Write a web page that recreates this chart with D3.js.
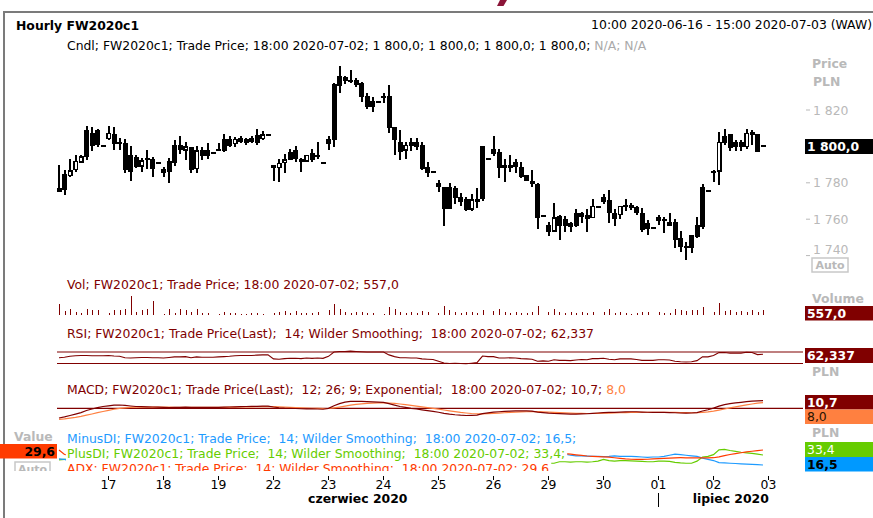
<!DOCTYPE html>
<html><head><meta charset="utf-8">
<script src="https://cdn.jsdelivr.net/npm/d3@7"></script>
<style>body{margin:0;background:#fff;}svg{display:block;}</style>
</head><body><svg id="c" width="873" height="518"></svg>
<script>
// ---------- DATA (hourly bars, first bar = 10:00 2020-06-16) ----------
const open = [
1777.0,1784.8,1783.7,1786.9,1791.0,1809.0,1807.5,1809.0,1800.2,
1803.9,1806.8,1802.6,1802.0,1795.3,1794.0,1788.9,1793.4,1793.0,1791.0,
1787.4,1792.0,1800.8,1800.8,1797.7,1799.5,1787.4,1798.0,1798.0,1796.6,
1798.0,1803.9,1803.9,1801.3,1804.4,1803.9,1804.4,1806.3,1803.9,1806.3,
1789.8,1788.0,1790.7,1797.1,1798.0,1793.0,1791.6,1796.2,1794.9,1791.0,
1803.9,1834.3,1838.7,1838.3,1836.3,1836.5,1835.0,1827.7,1825.1,1824.6,
1827.0,1827.7,1810.5,1802.6,1797.7,1802.6,1802.6,1800.8,1788.9,1786.1,
1779.7,1777.5,1777.5,1777.0,1772.4,1770.9,1765.1,1770.9,1800.2,1792.9,
1798.4,1797.1,1789.8,1789.8,1791.6,1788.9,1784.3,1781.2,1779.3,1761.8,
1756.8,1753.1,1761.8,1760.0,1758.1,1763.6,1763.6,1762.3,1760.5,1766.9,
1772.0,1770.5,1763.6,1762.3,1767.5,1766.0,1766.9,1763.6,1758.1,1755.0,
1761.0,1760.0,1758.6,1758.6,1749.5,1745.3,1751.3,1756.8,1777.9,1775.7,
1786.1,1786.1,1805.7,1806.8,1802.6,1802.6,1799.5,1808.1,1806.8,1800.0];
const high = [
1789.8,1787.0,1793.0,1795.3,1795.3,1811.2,1810.8,1809.6,1800.2,
1811.2,1810.5,1804.4,1803.9,1800.2,1795.3,1793.4,1798.0,1794.4,1791.0,
1788.9,1793.4,1803.5,1805.7,1802.6,1799.9,1800.2,1799.5,1801.7,1796.6,
1802.0,1806.8,1805.7,1805.0,1805.7,1804.4,1805.7,1809.4,1808.6,1806.3,
1789.8,1792.9,1795.8,1798.4,1800.2,1793.4,1795.3,1798.4,1802.6,1791.0,
1805.7,1835.0,1844.2,1838.7,1842.0,1837.4,1835.6,1829.5,1827.3,1824.6,
1829.2,1833.7,1810.8,1809.0,1802.6,1804.4,1804.4,1802.6,1791.6,1786.1,
1781.5,1777.9,1779.7,1778.2,1774.6,1772.0,1773.8,1777.0,1800.2,1792.9,
1805.7,1798.4,1792.9,1795.3,1792.9,1791.6,1784.3,1787.0,1779.7,1761.8,
1758.6,1768.7,1762.3,1761.8,1758.6,1765.4,1764.0,1765.4,1770.9,1766.9,
1773.8,1776.0,1765.4,1767.3,1770.9,1768.7,1767.3,1766.0,1759.6,1755.0,
1762.3,1761.4,1763.6,1760.0,1753.7,1747.7,1751.3,1761.4,1779.3,1775.7,
1787.0,1808.1,1809.4,1806.8,1803.5,1803.5,1809.4,1809.0,1806.8,1800.0];
const low = [
1775.1,1773.3,1783.4,1786.1,1790.7,1792.5,1797.7,1799.5,1800.2,
1803.5,1798.0,1798.0,1785.6,1781.0,1788.0,1786.1,1787.4,1783.4,1791.0,
1783.4,1780.0,1789.2,1795.8,1792.5,1785.6,1785.6,1792.5,1792.9,1796.6,
1797.7,1797.1,1799.9,1799.9,1801.7,1800.8,1801.7,1800.8,1803.5,1806.3,
1781.2,1780.6,1785.6,1792.5,1791.6,1786.1,1791.6,1791.6,1792.9,1791.0,
1798.0,1799.5,1829.2,1834.3,1834.6,1832.8,1824.6,1820.4,1819.0,1824.6,
1824.0,1807.2,1795.3,1792.5,1792.9,1797.7,1798.0,1787.0,1783.4,1786.1,
1775.1,1756.3,1765.4,1768.4,1767.3,1764.7,1764.7,1766.0,1770.2,1792.9,
1794.7,1782.4,1780.6,1786.1,1785.6,1782.4,1781.2,1777.5,1754.4,1761.8,
1750.8,1753.1,1748.6,1753.1,1753.1,1755.9,1758.1,1753.1,1760.5,1766.9,
1768.4,1758.1,1756.3,1760.0,1764.7,1765.1,1762.3,1753.1,1751.3,1755.0,
1756.8,1752.6,1756.3,1744.0,1742.2,1737.6,1741.6,1749.5,1754.4,1775.7,
1780.6,1778.8,1800.8,1797.7,1797.7,1797.7,1798.4,1800.8,1797.1,1800.0];
const close = [
1775.1,1776.0,1787.0,1792.0,1794.7,1794.4,1800.2,1800.8,1800.2,
1807.5,1801.3,1801.3,1787.0,1786.1,1788.9,1792.5,1792.5,1787.4,1791.0,
1785.6,1786.1,1790.7,1798.0,1800.2,1787.0,1798.0,1794.7,1794.7,1796.6,
1797.7,1797.7,1800.2,1804.2,1802.6,1801.7,1802.6,1801.7,1806.8,1806.3,
1788.0,1791.0,1792.9,1792.5,1792.9,1791.6,1795.3,1792.5,1794.9,1791.0,
1801.3,1803.5,1833.2,1836.1,1835.7,1833.7,1827.3,1821.8,1821.8,1824.6,
1827.0,1809.9,1803.5,1797.1,1800.8,1800.2,1799.9,1787.4,1785.6,1786.1,
1777.5,1765.4,1765.4,1771.5,1769.6,1765.1,1770.9,1769.6,1770.9,1792.9,
1795.8,1788.0,1788.0,1788.0,1788.5,1783.4,1781.2,1779.3,1760.5,1761.8,
1753.1,1761.0,1756.3,1756.3,1755.9,1756.3,1761.0,1760.0,1767.3,1766.9,
1769.6,1763.2,1760.0,1767.3,1767.1,1767.8,1763.2,1754.1,1754.4,1755.0,
1759.2,1759.6,1756.3,1748.6,1744.6,1744.0,1744.0,1750.4,1755.9,1775.7,
1786.1,1802.6,1801.7,1799.0,1799.5,1799.5,1807.5,1806.3,1797.1,1800.0];
const volume = [
1300,450,700,300,250,650,550,600,50,
250,550,600,700,2150,350,550,650,1650,40,
80,650,250,700,550,300,650,200,250,40,
150,300,200,250,150,150,200,250,150,30,
200,350,500,250,500,200,250,200,400,40,
600,1300,700,350,250,300,400,250,200,40,
150,900,650,400,250,300,250,500,300,40,
250,1000,600,350,250,350,300,250,600,40,
450,650,300,250,300,250,200,300,1100,40,
300,650,350,250,300,250,300,250,400,40,
300,650,250,350,200,150,250,350,300,40,
300,200,250,650,550,500,550,600,900,50,
350,1350,450,550,300,450,350,600,400,557];
const rsi = [
50,52,55,57,58,58,57,57,57,
58,56,55,50,49,50,51,51,50,50,
49,51,53,53,54,50,53,52,52,52,
53,54,55,57,58,58,58,59,60,60,
46,45,47,48,48,47,49,48,49,48,
55,70,72,72,73,72,71,70,70,70,
70,60,54,50,50,49,49,46,45,44,
38,32,30,31,30,29,31,33,56,54,
54,49,49,50,49,47,46,45,38,39,
38,43,41,41,40,42,44,43,47,47,
48,45,43,46,46,46,44,41,41,41,
43,43,42,38,36,35,36,40,53,53,
58,68,68,66,66,66,69,68,61,62.337];
const macd = [
-13.5,-12,-10,-8,-6,-3,-1,1,2.5,
3.5,4.5,4.6,4,3.2,2.5,2.2,2,1.8,1.5,
1.2,1,1.2,1.4,1.6,1.2,1.3,1.4,1.4,1.3,
1.4,1.6,1.8,2.1,2.3,2.5,2.6,2.7,2.9,3,
1.8,0.8,0.3,0,-0.3,-0.6,-0.7,-0.9,-1,-1.3,
0,3.5,6.5,8.5,9.5,9.8,9.6,9.2,8.8,8.5,
8.2,6.5,4.5,2.5,1.2,0,-1,-2.2,-3.3,-4.3,
-5.5,-7,-8.2,-9,-9.6,-10,-9.8,-9.5,-7.5,-6.3,
-5.2,-4.8,-4.4,-4,-3.6,-3.5,-3.6,-3.9,-5.2,-6,
-6.8,-7.2,-7.5,-7.8,-8,-8,-7.8,-7.6,-7,-6.5,
-6,-5.8,-5.6,-5.2,-5,-4.8,-4.8,-5.2,-5.5,-5.7,
-5.8,-5.8,-5.9,-6.2,-6.5,-6.6,-6.5,-6,-3.8,-2,
0.2,3,5.2,6.5,7.5,8.3,9.2,10,10.4,10.7];
const signal = [
-15.3,-14.7,-13.7,-12.6,-11.3,-9.6,-7.9,-6.1,-4.4,
-2.8,-1.3,-0.1,0.7,1.2,1.5,1.6,1.7,1.7,1.7,
1.6,1.5,1.4,1.4,1.4,1.4,1.4,1.4,1.4,1.4,
1.4,1.4,1.5,1.6,1.8,1.9,2.1,2.2,2.3,2.5,
2.4,2.1,1.7,1.4,1.1,0.7,0.4,0.1,-0.1,-0.3,
-0.3,0.5,1.7,3.0,4.3,5.4,6.2,6.8,7.2,7.5,
7.6,7.4,6.8,6,5,4,3,2,0.9,-0.1,
-1.2,-2.4,-3.6,-4.7,-5.7,-6.5,-7.2,-7.7,-7.7,-7.4,
-7,-6.6,-6.2,-5.8,-5.4,-5,-4.8,-4.6,-4.7,-5,
-5.4,-5.8,-6.1,-6.4,-6.7,-7,-7.1,-7.2,-7.2,-7,
-6.8,-6.6,-6.4,-6.2,-6,-5.8,-5.6,-5.5,-5.5,-5.5,
-5.6,-5.6,-5.7,-5.8,-6,-6.1,-6.2,-6.1,-5.6,-4.9,
-3.9,-2.5,-1,0.5,1.9,3.4,4.8,6.0,7.2,8.0];
const minusDI = [
27,26,23,21,19,16,15,14,14,
13,14,14,19,20,19,18,17,19,19,
20,21,18,17,17,20,18,17,17,17,
16,16,15,15,15,15,14,14,14,14,
22,21,20,19,19,20,19,19,18,18,
16,11,10,9,9,9,12,14,14,14,
13,19,20,22,21,20,20,23,24,24,
28,33,32,31,30,31,29,28,23,22,
21,23,24,23,23,24,24,24,33,32,
34,35,36,35,33,32,32,31.5,31,31,
30.5,31,32,31,31,31,30.5,30,29.5,30,
30,31,33,35,34,33,32,31,28,26,
24,20.5,20,19.5,19,18.5,18,17.5,17,16.5];
const plusDI = [
25,26,27,28,28,33,32,31,31,
33,31,30,26,24,23,23,23,22,22,
21,21,24,24,24,22,24,23,23,23,
23,24,24,25,25,25,25,26,26,26,
20,20,21,21,21,20,21,20,22,22,
24,40,42,41,42,40,37,35,34,34,
33,29,28,27,26,25,25,23,22,22,
20,18,17,17,16,17,17,16,27,26,
27,25,24,24,23,22,21,21,21,22,
19.5,19.5,22,22,21.5,22,22,21.5,22,23,
26,24,23,24,24,23.5,23,22.5,22,22,
23,23,22.5,21,20,19.5,19.5,23,30,31,
34,42,43,41,39.5,38,37,36,35,33.4];
const adx = [
29.6,22,21,21,21.5,22,22.5,23,23.5,
24,24.5,24,23,22.5,22,21.5,21,20.5,20,
19.5,19,18.5,18,17.5,17,16.8,16.5,16.3,16,
15.8,15.6,15.5,15.6,15.8,16,16.3,16.5,16.8,17,
17,16.8,16.5,16.2,16,15.8,15.5,15.3,15,14.8,
15,17,19,21,23,24.5,26,27,28,28.5,
29,28.5,28,27,26,25,24.2,23.5,23,22.5,
22.5,23,23.5,24,24.5,25,25.2,25.3,24.5,24,
23.5,23,22.5,22,21.8,21.6,21.5,21.5,22,22.5,
23,23.5,24,23.5,22.5,21.5,20.5,19.5,19,18.5,
18,17.5,16.5,15.5,14.5,14,13.8,13.8,14,14.5,
15,15.5,16,16.5,16.6,16.5,16.3,16.2,16.3,16.5,
16.6,18,20,22,23.5,25,26.5,27.5,28.5,29.6];
const dayLabels = ["17","18","19","22","23","24","25","26","29","30","01","02","03"];
const priceTicks = [1740,1760,1780,1800,1820];
const lastPrice = 1800.0;

// ---------- SETUP ----------
const FONT = '"DejaVu Sans", Verdana, sans-serif';
const FS = 12.4;
const MAROON="#800000", ORANGE="#ff8040", BLUE="#1e9bff", BLUEBOX="#0099ff",
      GREEN="#66cc00", RED="#ff3b00", GRAY="#b9b9b9", FRAME="#7b7b7b";
const svg = d3.select("#c").attr("font-family", FONT).attr("font-size", FS);
const n = close.length;
const bars = d3.range(n).map(k => ({i:k+1, o:open[k], h:high[k], l:low[k], c:close[k],
  v:volume[k], rsi:rsi[k], macd:macd[k], sig:signal[k], pdi:plusDI[k], mdi:minusDI[k], adx:adx[k]}));

const x  = d3.scaleLinear().domain([1,136]).range([59,801.5]);
const yP = d3.scaleLinear().domain([1740,1820]).range([255.6,110]);
const yV = d3.scaleLinear().domain([0,2200]).range([315,296]);
const yR = d3.scaleLinear().domain([30,70]).range([363.5,352]);
const yM = d3.scaleLinear().domain([0,10.7]).range([408.3,400.6]);
const yD = d3.scaleLinear().domain([16.5,33.4]).range([465,455]);
const yA = d3.scaleLinear().domain([20,29.6]).range([455.7,450]);
const X0 = 57, X1 = 803;

const defs = svg.append("defs");
defs.append("clipPath").attr("id","plot").append("rect").attr("x",X0).attr("y",55).attr("width",X1-X0).attr("height",416);
defs.append("clipPath").attr("id","leftclip").append("rect").attr("x",0).attr("y",420).attr("width",60).attr("height",51);

// logo fragment at top edge (decorative)
svg.append("path").attr("d","M500,0 L507,0 L503.5,6 L497,6 Z").attr("fill","#8b1538");

// frame
svg.append("line").attr("x1",3).attr("x2",873).attr("y1",12).attr("y2",12).attr("stroke",FRAME).attr("stroke-width",2);
svg.append("line").attr("x1",4).attr("x2",4).attr("y1",11).attr("y2",518).attr("stroke",FRAME).attr("stroke-width",2);

// header
svg.append("text").attr("x",16).attr("y",30).attr("font-weight","bold").text("Hourly FW2020c1");
svg.append("text").attr("x",872).attr("y",29).attr("text-anchor","end").text("10:00 2020-06-16 - 15:00 2020-07-03 (WAW)");
const sub = svg.append("text").attr("x",67).attr("y",50).style("white-space","pre");
sub.append("tspan").text("Cndl; FW2020c1; Trade Price; 18:00 2020-07-02; 1 800,0; 1 800,0; 1 800,0; 1 800,0; ");
sub.append("tspan").attr("fill","#aaaaaa").text("N/A; N/A");

// ---------- PRICE PANEL ----------
const fmt = v => d3.format(",")(v).replace(/,/g," ");
svg.append("text").attr("x",812).attr("y",68).attr("font-weight","bold").attr("fill",GRAY).text("Price");
svg.append("text").attr("x",813).attr("y",86).attr("font-weight","bold").attr("fill",GRAY).text("PLN");
const pt = svg.append("g");
priceTicks.forEach(v => {
  pt.append("line").attr("x1",806).attr("x2",810).attr("y1",yP(v)).attr("y2",yP(v)).attr("stroke",GRAY);
  if (Math.abs(yP(v) - yP(lastPrice)) < 10) return; // label hidden behind the last-price box
  pt.append("text").attr("x",813).attr("y", v===priceTicks[0] ? yP(v)-1.5 : yP(v)+4.5).attr("fill",GRAY).text(fmt(v));
});
svg.append("rect").attr("x",812).attr("y",258).attr("width",36).attr("height",14)
  .attr("fill","none").attr("stroke","#c8c8c8").attr("stroke-width",1.5);
svg.append("text").attr("x",830).attr("y",269).attr("text-anchor","middle").attr("font-weight","bold")
  .attr("font-size",11).attr("fill",GRAY).text("Auto");

const plot = svg.append("g").attr("clip-path","url(#plot)");
const cg = plot.append("g").attr("shape-rendering","crispEdges");
bars.forEach(b => {
  const cx = x(b.i);
  if (b.h === b.l) {
    cg.append("rect").attr("x",cx-2.5).attr("y",yP(b.c)-1).attr("width",5).attr("height",2).attr("fill","#000");
    return;
  }
  cg.append("rect").attr("x",cx-1).attr("y",yP(b.h)).attr("width",2).attr("height",yP(b.l)-yP(b.h)).attr("fill","#000");
  const top = yP(Math.max(b.o,b.c)), bot = yP(Math.min(b.o,b.c));
  if (bot - top < 2) {
    cg.append("rect").attr("x",cx-2.5).attr("y",(top+bot)/2-1).attr("width",5).attr("height",2).attr("fill","#000");
  } else if (b.c > b.o) {
    cg.append("rect").attr("x",cx-1.75).attr("y",top+0.75).attr("width",3.5).attr("height",bot-top-1.5)
      .attr("fill","#fff").attr("stroke","#000").attr("stroke-width",1.5);
  } else {
    cg.append("rect").attr("x",cx-2.5).attr("y",top).attr("width",5).attr("height",bot-top).attr("fill","#000");
  }
});

// price box
svg.append("rect").attr("x",805).attr("y",139).attr("width",68).attr("height",15).attr("fill","#000");
svg.append("text").attr("x",807).attr("y",151).attr("fill","#fff").attr("font-weight","bold").text("1 800,0");

// ---------- VOLUME ----------
svg.append("text").attr("x",67).attr("y",289).attr("fill",MAROON).style("white-space","pre")
  .text("Vol; FW2020c1; Trade Price; 18:00 2020-07-02; 557,0");
plot.append("g").attr("shape-rendering","crispEdges").selectAll("line").data(bars).join("line")
  .attr("x1",d=>Math.round(x(d.i))+0.5).attr("x2",d=>Math.round(x(d.i))+0.5)
  .attr("y1",yV(0)).attr("y2",d=>yV(d.v)).attr("stroke",MAROON).attr("stroke-width",1);

// ---------- RSI ----------
svg.append("text").attr("x",67).attr("y",338).attr("fill",MAROON).style("white-space","pre")
  .text("RSI; FW2020c1; Trade Price(Last);  14; Wilder Smoothing;  18:00 2020-07-02; 62,337");
[70,30].forEach(v => plot.append("line").attr("x1",X0).attr("x2",X1).attr("y1",yR(v)).attr("y2",yR(v))
  .attr("stroke",MAROON).attr("stroke-width",1.2));
plot.append("path").datum(bars).attr("fill","none").attr("stroke",MAROON).attr("stroke-width",1.1)
  .attr("d", d3.line().x(d=>x(d.i)).y(d=>yR(d.rsi)));

// ---------- MACD ----------
const mt = svg.append("text").attr("x",67).attr("y",394).attr("fill",MAROON).style("white-space","pre");
mt.append("tspan").text("MACD; FW2020c1; Trade Price(Last);  12; 26; 9; Exponential;  18:00 2020-07-02; 10,7; ");
mt.append("tspan").attr("fill",ORANGE).text("8,0");
plot.append("line").attr("x1",X0).attr("x2",X1).attr("y1",yM(0)).attr("y2",yM(0)).attr("stroke",MAROON).attr("stroke-width",1.2);
plot.append("path").datum(bars).attr("fill","none").attr("stroke",ORANGE).attr("stroke-width",1.2)
  .attr("d", d3.line().x(d=>x(d.i)).y(d=>yM(d.sig)));
plot.append("path").datum(bars).attr("fill","none").attr("stroke",MAROON).attr("stroke-width",1.2)
  .attr("d", d3.line().x(d=>x(d.i)).y(d=>yM(d.macd)));

// ---------- DI / ADX ----------
plot.append("path").datum(bars).attr("fill","none").attr("stroke",GREEN).attr("stroke-width",1.2)
  .attr("d", d3.line().x(d=>x(d.i)).y(d=>yD(d.pdi)));
plot.append("path").datum(bars).attr("fill","none").attr("stroke",BLUE).attr("stroke-width",1.2)
  .attr("d", d3.line().x(d=>x(d.i)).y(d=>yD(d.mdi)));
plot.append("path").datum(bars).attr("fill","none").attr("stroke",RED).attr("stroke-width",1.2)
  .attr("d", d3.line().x(d=>x(d.i)).y(d=>yA(d.adx)));
const rows = [
  {t:"MinusDI; FW2020c1; Trade Price;  14; Wilder Smoothing;  18:00 2020-07-02; 16,5;", c:BLUE, y:443, top:432, h:15},
  {t:"PlusDI; FW2020c1; Trade Price;  14; Wilder Smoothing;  18:00 2020-07-02; 33,4;", c:GREEN, y:458, top:447, h:14},
  {t:"ADX; FW2020c1; Trade Price;  14; Wilder Smoothing;  18:00 2020-07-02; 29,6", c:RED, y:473, top:461, h:15}
];
rows.forEach(r => {
  const g = plot.append("g");
  const bg = g.append("rect").attr("fill","#fff");
  const t = g.append("text").attr("x",67).attr("y",r.y).attr("fill",r.c).style("white-space","pre").text(r.t);
  const bb = t.node().getBBox();
  bg.attr("x",66).attr("y",r.top).attr("width",bb.width+3).attr("height",r.h);
});

// left value axis
svg.append("text").attr("x",14).attr("y",441).attr("font-weight","bold").attr("fill",GRAY).text("Value");
const lg = svg.append("g").attr("clip-path","url(#leftclip)");
lg.append("rect").attr("x",15).attr("y",462).attr("width",35).attr("height",13).attr("fill","none").attr("stroke","#c8c8c8").attr("stroke-width",1.5);
lg.append("text").attr("x",32.5).attr("y",473).attr("text-anchor","middle").attr("font-weight","bold").attr("font-size",11).attr("fill",GRAY).text("Auto");
svg.append("rect").attr("x",0).attr("y",444).attr("width",57).attr("height",14.5).attr("fill",RED);
svg.append("text").attr("x",55).attr("y",455.5).attr("text-anchor","end").attr("font-weight","bold").attr("fill","#000").text("29,6");

// ---------- right side labels & boxes ----------
[["Volume",302.5],["PLN",376],["PLN",437]].forEach(([t,y]) =>
  svg.append("text").attr("x",812).attr("y",y).attr("font-weight","bold").attr("fill",GRAY).text(t));
function box(y0,h,fill,txt,col,bold){
  svg.append("rect").attr("x",805).attr("y",y0).attr("width",68).attr("height",h).attr("fill",fill);
  svg.append("text").attr("x",807).attr("y",y0+h/2+4.5).attr("fill",col).attr("font-weight",bold?"bold":"normal").text(txt);
}
box(306,14.5,MAROON,"557,0","#fff",true);
box(348,15,MAROON,"62,337","#fff",true);
box(395,14.5,MAROON,"10,7","#fff",true);
box(409.5,14.5,ORANGE,"8,0","#2a1400",false);
box(442,15,GREEN,"33,4","#fff",false);
box(457,14.5,BLUEBOX,"16,5","#000",true);

// ---------- X AXIS ----------
const xa = svg.append("g");
dayLabels.forEach((lab,j) => {
  const xi = x(10*(j+1));
  xa.append("line").attr("x1",xi).attr("x2",xi).attr("y1",476).attr("y2",480).attr("stroke","#000");
  xa.append("text").attr("x",xi).attr("y",489).attr("text-anchor","middle").text(lab);
});
const sep = x(110);
xa.append("line").attr("x1",sep).attr("x2",sep).attr("y1",493).attr("y2",507).attr("stroke","#000");
xa.append("text").attr("x",(X0+sep)/2).attr("y",503).attr("text-anchor","middle").attr("font-weight","bold").text("czerwiec 2020");
xa.append("text").attr("x",(sep+X1)/2).attr("y",503).attr("text-anchor","middle").attr("font-weight","bold").text("lipiec 2020");
</script></body></html>
